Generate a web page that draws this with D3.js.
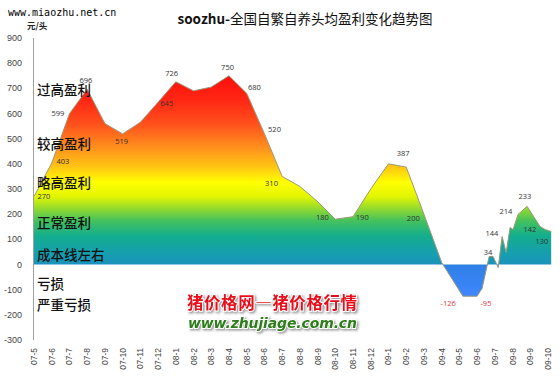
<!DOCTYPE html>
<html lang="zh">
<head>
    <meta charset="UTF-8">
    <title>soozhu 头均盈利</title>
    <script src="https://cdn.jsdelivr.net/npm/d3@7/dist/d3.min.js"></script>
    <style>
        body{ margin:0; background:#fff; }
        svg{ display:block; }
    </style>
</head>
<body>
<svg width="560" height="380"></svg>
<script>
    // month ticks
    var months = ["07-5","07-6","07-7","07-8","07-9","07-10","07-11","07-12",
        "08-1","08-2","08-3","08-4","08-5","08-6","08-7","08-8","08-9","08-10","08-11","08-12",
        "09-1","09-2","09-3","09-4","09-5","09-6","09-7","09-8","09-9","09-10"];

    // points: position in months (0 = 07-5) and profit per head
    var pos = [0,1,2,3,4,5,6,7,8,9,10,11,12,13,14,15,16,17,18,19,20,21,22,23,
        24.2,25.0,25.28,25.68,25.9,26.19,26.41,26.64,26.86,27.03,27.31,27.82,28.55,28.84,29.18];
    var profit = [270,403,599,696,560,519,565,645,726,690,705,750,680,520,350,310,250,180,190,300,
        400,387,200,8,-126,-126,-95,32,32,-12,111,48,147,139,199,231,151,139,131];

    var yTicks = [900,800,700,600,500,400,300,200,100,0,-100,-200,-300];

    // labels written on the chart: text, month, value
    var labelText = ["270","403","599","696","519","645","726","750","680","520","310","180","190",
        "387","200","-126","-95","34","144","214","233","142","130"];
    var labelPos = [0.56,1.63,1.35,2.93,4.95,7.49,7.77,10.92,12.44,13.57,13.4,16.27,18.52,
        20.83,21.4,23.37,25.5,25.62,25.84,26.63,27.7,27.98,28.66];
    var labelVal = [272,411,602,732,491,642,761,785,705,538,324,189,189,
        443,185,-153,-153,50,125,213,272,141,93];

    var zoneText = ["过高盈利","较高盈利","略高盈利","正常盈利","成本线左右","亏损","严重亏损"];
    var zoneVal = [694,480,324,164,37,-78,-160];

    var svg = d3.select("svg");

    var x = d3.scaleLinear().domain([0, 29]).range([34, 548]);
    var y = d3.scaleLinear().domain([-300, 900]).range([340, 38]);

    // gradient keyed on height
    var stops = [[760,"#ff0c0c"],[650,"#ff2814"],[560,"#ff501c"],[470,"#ff8c1e"],[390,"#ffc414"],
        [325,"#ffff00"],[270,"#e2f502"],[225,"#98dc2c"],[175,"#46c25c"],[115,"#14ae8c"],
        [45,"#169fae"],[0.5,"#1b92bc"],[-0.5,"#2f7fe6"],[-130,"#4088ff"]];
    var g0 = y(760), g1 = y(-130);
    var grad = svg.append("defs").append("linearGradient")
        .attr("id", "fillgrad")
        .attr("gradientUnits", "userSpaceOnUse")
        .attr("x1", 0).attr("x2", 0)
        .attr("y1", g0).attr("y2", g1);
    grad.selectAll("stop").data(stops).enter().append("stop")
        .attr("offset", function (d) { return (y(d[0]) - g0) / (g1 - g0); })
        .attr("stop-color", function (d) { return d[1]; });

    var shadow = svg.select("defs").append("filter").attr("id", "sh")
        .attr("x", "-10%").attr("y", "-30%").attr("width", "120%").attr("height", "160%");
    shadow.append("feDropShadow").attr("dx", 1.5).attr("dy", 1.5)
        .attr("stdDeviation", 1.2).attr("flood-color", "#999");

    var pts = pos.map(function (p, i) { return [p, profit[i]]; });

    var area = d3.area()
        .x(function (d) { return x(d[0]); })
        .y0(y(0))
        .y1(function (d) { return y(d[1]); });
    var line = d3.line()
        .x(function (d) { return x(d[0]); })
        .y(function (d) { return y(d[1]); });

    svg.append("path").datum(pts)
        .attr("d", area)
        .attr("fill", "url(#fillgrad)");
    svg.append("path").datum(pts)
        .attr("d", line)
        .attr("fill", "none")
        .attr("stroke", "#9a9a7a")
        .attr("stroke-width", 1);

    // y axis
    svg.append("line")
        .attr("x1", 33.5).attr("x2", 33.5)
        .attr("y1", y(900)).attr("y2", y(-300))
        .attr("stroke", "#a0a0a0");
    svg.append("g").selectAll("text").data(yTicks).enter().append("text")
        .attr("x", 22)
        .attr("y", function (d) { return y(d); })
        .attr("dy", "0.35em")
        .attr("text-anchor", "end")
        .attr("font-family", "Liberation Sans, Arial, sans-serif")
        .attr("font-size", 9)
        .attr("fill", "#444")
        .text(function (d) { return d; });

    // x labels, rotated
    svg.append("g").selectAll("text").data(months).enter().append("text")
        .attr("transform", function (d, i) { return "translate(" + (x(i) + 3) + ",348) rotate(-90)"; })
        .attr("text-anchor", "end")
        .attr("font-family", "Liberation Sans, Arial, sans-serif")
        .attr("font-size", 8.5)
        .attr("fill", "#444")
        .text(function (d) { return d; });

    // value labels
    svg.append("g").selectAll("text").data(labelText).enter().append("text")
        .attr("x", function (d, i) { return x(labelPos[i]); })
        .attr("y", function (d, i) { return y(labelVal[i]); })
        .attr("dy", "0.35em")
        .attr("text-anchor", "middle")
        .attr("font-family", "Open Sans, Liberation Sans, sans-serif")
        .attr("font-size", 7.5)
        .attr("fill", function (d) { return d.charAt(0) == "-" ? "#e8353a" : "#333"; })
        .text(function (d) { return d; });

    // zone names on the left
    svg.append("g").selectAll("text").data(zoneText).enter().append("text")
        .attr("x", 37)
        .attr("y", function (d, i) { return y(zoneVal[i]); })
        .attr("dy", "0.38em")
        .attr("font-family", "Noto Sans CJK SC, sans-serif")
        .attr("font-size", 13.5)
        .attr("font-weight", 500)
        .attr("fill", "#111")
        .text(function (d) { return d; });

    // title and notes
    var title = svg.append("text")
        .attr("x", 305).attr("y", 24)
        .attr("text-anchor", "middle")
        .attr("font-family", "Noto Sans CJK SC, sans-serif")
        .attr("font-size", 13.5)
        .attr("fill", "#111");
    title.append("tspan").attr("font-weight", "bold").text("soozhu-");
    title.append("tspan").text("全国自繁自养头均盈利变化趋势图");

    svg.append("text")
        .attr("x", 8).attr("y", 16)
        .attr("font-family", "DejaVu Sans Mono, monospace")
        .attr("font-size", 10)
        .attr("fill", "#000")
        .text("www.miaozhu.net.cn");

    svg.append("text")
        .attr("x", 27).attr("y", 29)
        .attr("font-family", "Noto Sans CJK SC, sans-serif")
        .attr("font-size", 8.5)
        .attr("font-weight", "bold")
        .attr("fill", "#222")
        .text("元/头");

    // site watermark
    svg.append("text")
        .attr("x", 187).attr("y", 309)
        .attr("textLength", 170)
        .attr("font-family", "Noto Sans CJK SC, sans-serif")
        .attr("font-size", 16.5)
        .attr("font-weight", "bold")
        .attr("fill", "#e8101a")
        .attr("stroke", "#fff").attr("stroke-width", 2)
        .attr("paint-order", "stroke")
        .attr("filter", "url(#sh)")
        .text("猪价格网—猪价格行情");
    svg.append("text")
        .attr("x", 188).attr("y", 328)
        .attr("textLength", 169)
        .attr("font-family", "DejaVu Sans, sans-serif")
        .attr("font-size", 14)
        .attr("font-weight", "bold")
        .attr("font-style", "italic")
        .attr("fill", "#2e7d1a")
        .attr("stroke", "#fff").attr("stroke-width", 2)
        .attr("paint-order", "stroke")
        .attr("filter", "url(#sh)")
        .text("www.zhujiage.com.cn");
</script>
</body>
</html>
